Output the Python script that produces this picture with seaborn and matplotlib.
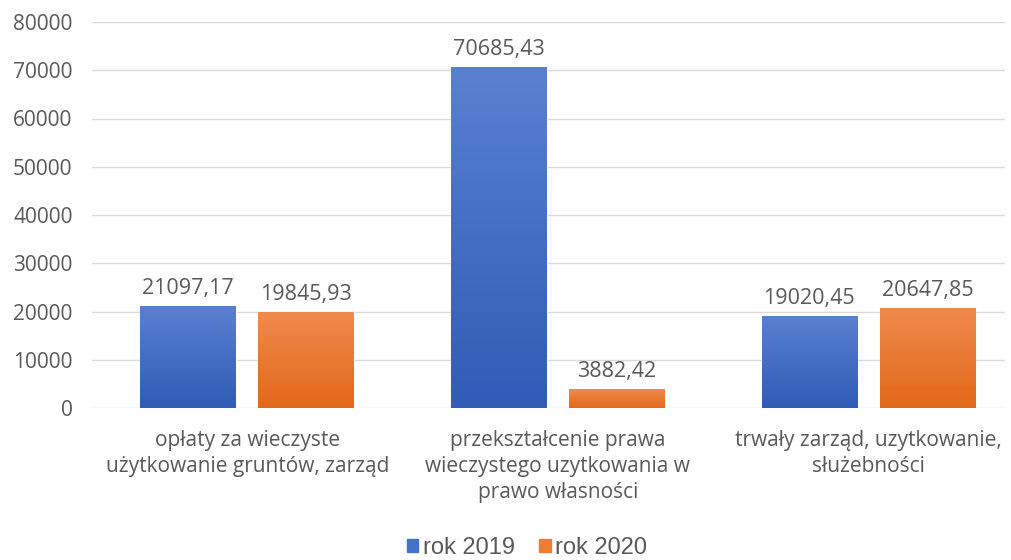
import numpy as np
import pandas as pd
import matplotlib.pyplot as plt
import matplotlib.colors as mcolors
import seaborn as sns

categories = [
    "opłaty za wieczyste\nużytkowanie gruntów, zarząd",
    "przekształcenie prawa\nwieczystego uzytkowania w\nprawo własności",
    "trwały zarząd, uzytkowanie,\nsłużebności",
]
years = ["rok 2019", "rok 2020"]
values_2019 = [21097.17, 70685.43, 19020.45]
values_2020 = [19845.93, 3882.42, 20647.85]

df = pd.DataFrame({
    "kategoria": categories * 2,
    "rok": [years[0]] * 3 + [years[1]] * 3,
    "wartosc": values_2019 + values_2020,
})

sns.set_theme(style="white")
plt.rcParams["font.family"] = ["Open Sans", "DejaVu Sans"]
text_color = "#595959"

fig = plt.figure(figsize=(10.11, 5.6), dpi=100)
ax = fig.add_axes([92 / 1011, 152 / 560, 913 / 1011, 386 / 560])

palette = {"rok 2019": "#4472c4", "rok 2020": "#ed7d31"}
sns.barplot(data=df, x="kategoria", y="wartosc", hue="rok", palette=palette,
            width=0.76, gap=0.19, ax=ax, legend=False, zorder=2)

# gradient fill on each bar (lighter top, darker bottom)
grads = {
    0: ("#5a80d0", "#2f5cb6"),
    1: ("#f08a4c", "#e2691b"),
}
for i, cont in enumerate(ax.containers):
    top, bottom = grads[i]
    cmap = mcolors.LinearSegmentedColormap.from_list("g", [bottom, top])
    for p in cont.patches:
        x0, y0 = p.get_x(), p.get_y()
        w, h = p.get_width(), p.get_height()
        grad = np.linspace(0, 1, 256).reshape(-1, 1)
        im = ax.imshow(grad, cmap=cmap, origin="lower", aspect="auto",
                       extent=[x0, x0 + w, y0, y0 + h], zorder=2.5)
        im.set_clip_path(p)
    ax.bar_label(cont, labels=[f"{v:.2f}".replace(".", ",") for v in cont.datavalues],
                 padding=5, fontsize=15.5, color=text_color)

ax.set_xlim(-0.5, 2.44)
ax.set_ylim(0, 80000)
ax.set_yticks(np.arange(0, 80001, 10000))
ax.yaxis.grid(True, color="#d9d9d9", linewidth=1, zorder=0)
ax.set_axisbelow(True)
for s in ax.spines.values():
    s.set_visible(False)
ax.set_xlabel("")
ax.set_ylabel("")
ax.tick_params(axis="y", labelsize=15, colors=text_color, pad=14, length=0)
ax.tick_params(axis="x", labelsize=15, colors=text_color, pad=16, length=0)
for lbl in ax.get_xticklabels():
    lbl.set_linespacing(1.32)

handles = [plt.Rectangle((0, 0), 1, 1, color=palette[y]) for y in years]
leg = fig.legend(handles, years, loc="center", bbox_to_anchor=(527 / 1011, 1 - 548 / 560),
                 ncol=2, frameon=False, handlelength=0.5, handleheight=0.5,
                 handletextpad=0.2, columnspacing=1.0,
                 prop={"family": "Liberation Sans", "size": 17})
for t in leg.get_texts():
    t.set_color(text_color)

fig.savefig("out.png", dpi=100)
